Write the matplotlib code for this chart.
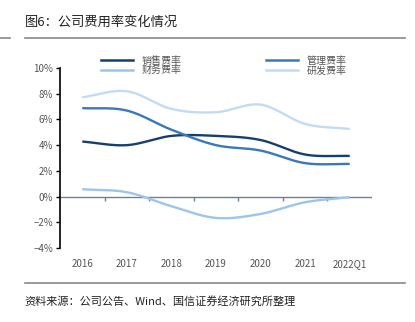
import numpy as np
import matplotlib
matplotlib.use("Agg")
import matplotlib.pyplot as plt
from matplotlib.lines import Line2D

plt.rcParams['font.family'] = ['Noto Sans CJK SC', 'DejaVu Sans']

years = ['2016', '2017', '2018', '2019', '2020', '2021', '2022Q1']
sales = [4.28, 4.00, 4.72, 4.72, 4.40, 3.27, 3.16]
manage = [6.88, 6.69, 5.20, 4.00, 3.58, 2.60, 2.54]
finance = [0.57, 0.34, -0.75, -1.66, -1.35, -0.44, -0.05]
rnd = [7.72, 8.19, 6.82, 6.56, 7.15, 5.65, 5.26]
names = ['销售费率', '管理费率', '财务费率', '研发费率']
colors = ['#173f6e', '#3a78ba', '#9cc5ec', '#c3dbf2']


def smooth(x, y, n=30):
    # catmull-rom style curve through the points, like excel smoothed lines
    x = np.asarray(x, float)
    y = np.asarray(y, float)
    px = np.concatenate([[2 * x[0] - x[1]], x, [2 * x[-1] - x[-2]]])
    py = np.concatenate([[2 * y[0] - y[1]], y, [2 * y[-1] - y[-2]]])
    xs, ys = [], []
    t = np.linspace(0, 1, n)
    for i in range(1, len(px) - 2):
        p0, p1, p2, p3 = py[i - 1], py[i], py[i + 1], py[i + 2]
        ys.append(0.5 * (2 * p1 + (-p0 + p2) * t + (2 * p0 - 5 * p1 + 4 * p2 - p3) * t ** 2
                         + (-p0 + 3 * p1 - 3 * p2 + p3) * t ** 3))
        xs.append(px[i] + (px[i + 1] - px[i]) * t)
    return np.concatenate(xs), np.concatenate(ys)


fig = plt.figure(figsize=(4.15, 3.22), dpi=100)
ax = fig.add_axes([0.1446, 0.2298, 0.7518, 0.559])

xpos = np.arange(len(years))
handles = []
for vals, c, nm in zip([sales, manage, finance, rnd], colors, names):
    sx, sy = smooth(xpos, vals)
    ax.plot(sx, sy, color=c, lw=1.7, solid_capstyle='butt', zorder=3)
    handles.append(Line2D([], [], color=c, lw=1.8, label=nm))

ax.set_xlim(-0.5, len(years) - 0.5)
ax.set_ylim(-4, 10)
ax.set_yticks(np.arange(-4, 11, 2))
ax.set_yticklabels([f'{v}%'.replace('-', '\u2212') for v in range(-4, 11, 2)])
ax.tick_params(axis='y', direction='out', length=3, width=1, color='black',
               labelsize=7, labelcolor='#555555', pad=2)
for s in ['top', 'right', 'bottom']:
    ax.spines[s].set_visible(False)
ax.spines['left'].set_linewidth(1.2)

ax.set_xticks(xpos)
ax.set_xticklabels(years)
ax.tick_params(axis='x', length=0, labelsize=7, labelcolor='#555555', pad=8)

ax.axhline(0, color='#6f8197', lw=1, zorder=2)
sec = ax.secondary_xaxis(4 / 14)
sec.spines['bottom'].set_visible(False)
sec.set_xticks(xpos[:-1] + 0.5)
sec.set_xticklabels([])
sec.tick_params(axis='x', direction='out', length=3, color='#6f8197', width=1)

leg = fig.legend(handles=[handles[0], handles[2], handles[1], handles[3]], ncol=2,
                 loc='upper left', bbox_to_anchor=(0.231, 0.842), frameon=False,
                 fontsize=7.2, handlelength=3.2, handletextpad=0.9, labelspacing=-0.05,
                 columnspacing=8.4, borderpad=0)
for t in leg.get_texts():
    t.set_color('#555555')

fig.text(0.06, 0.93, '图6：公司费用率变化情况', fontsize=9.5, color='#222222', va='center')
fig.add_artist(Line2D([0.06, 0.975], [0.882, 0.882], color='#888888', lw=1.2))
fig.add_artist(Line2D([0.0, 0.025], [0.882, 0.882], color='#888888', lw=1.2))
fig.add_artist(Line2D([0.06, 0.975], [0.121, 0.121], color='#888888', lw=1.2))
fig.text(0.06, 0.065, '资料来源：公司公告、Wind、国信证券经济研究所整理', fontsize=8,
         color='#222222', va='center')

fig.savefig('out.png', dpi=100)
